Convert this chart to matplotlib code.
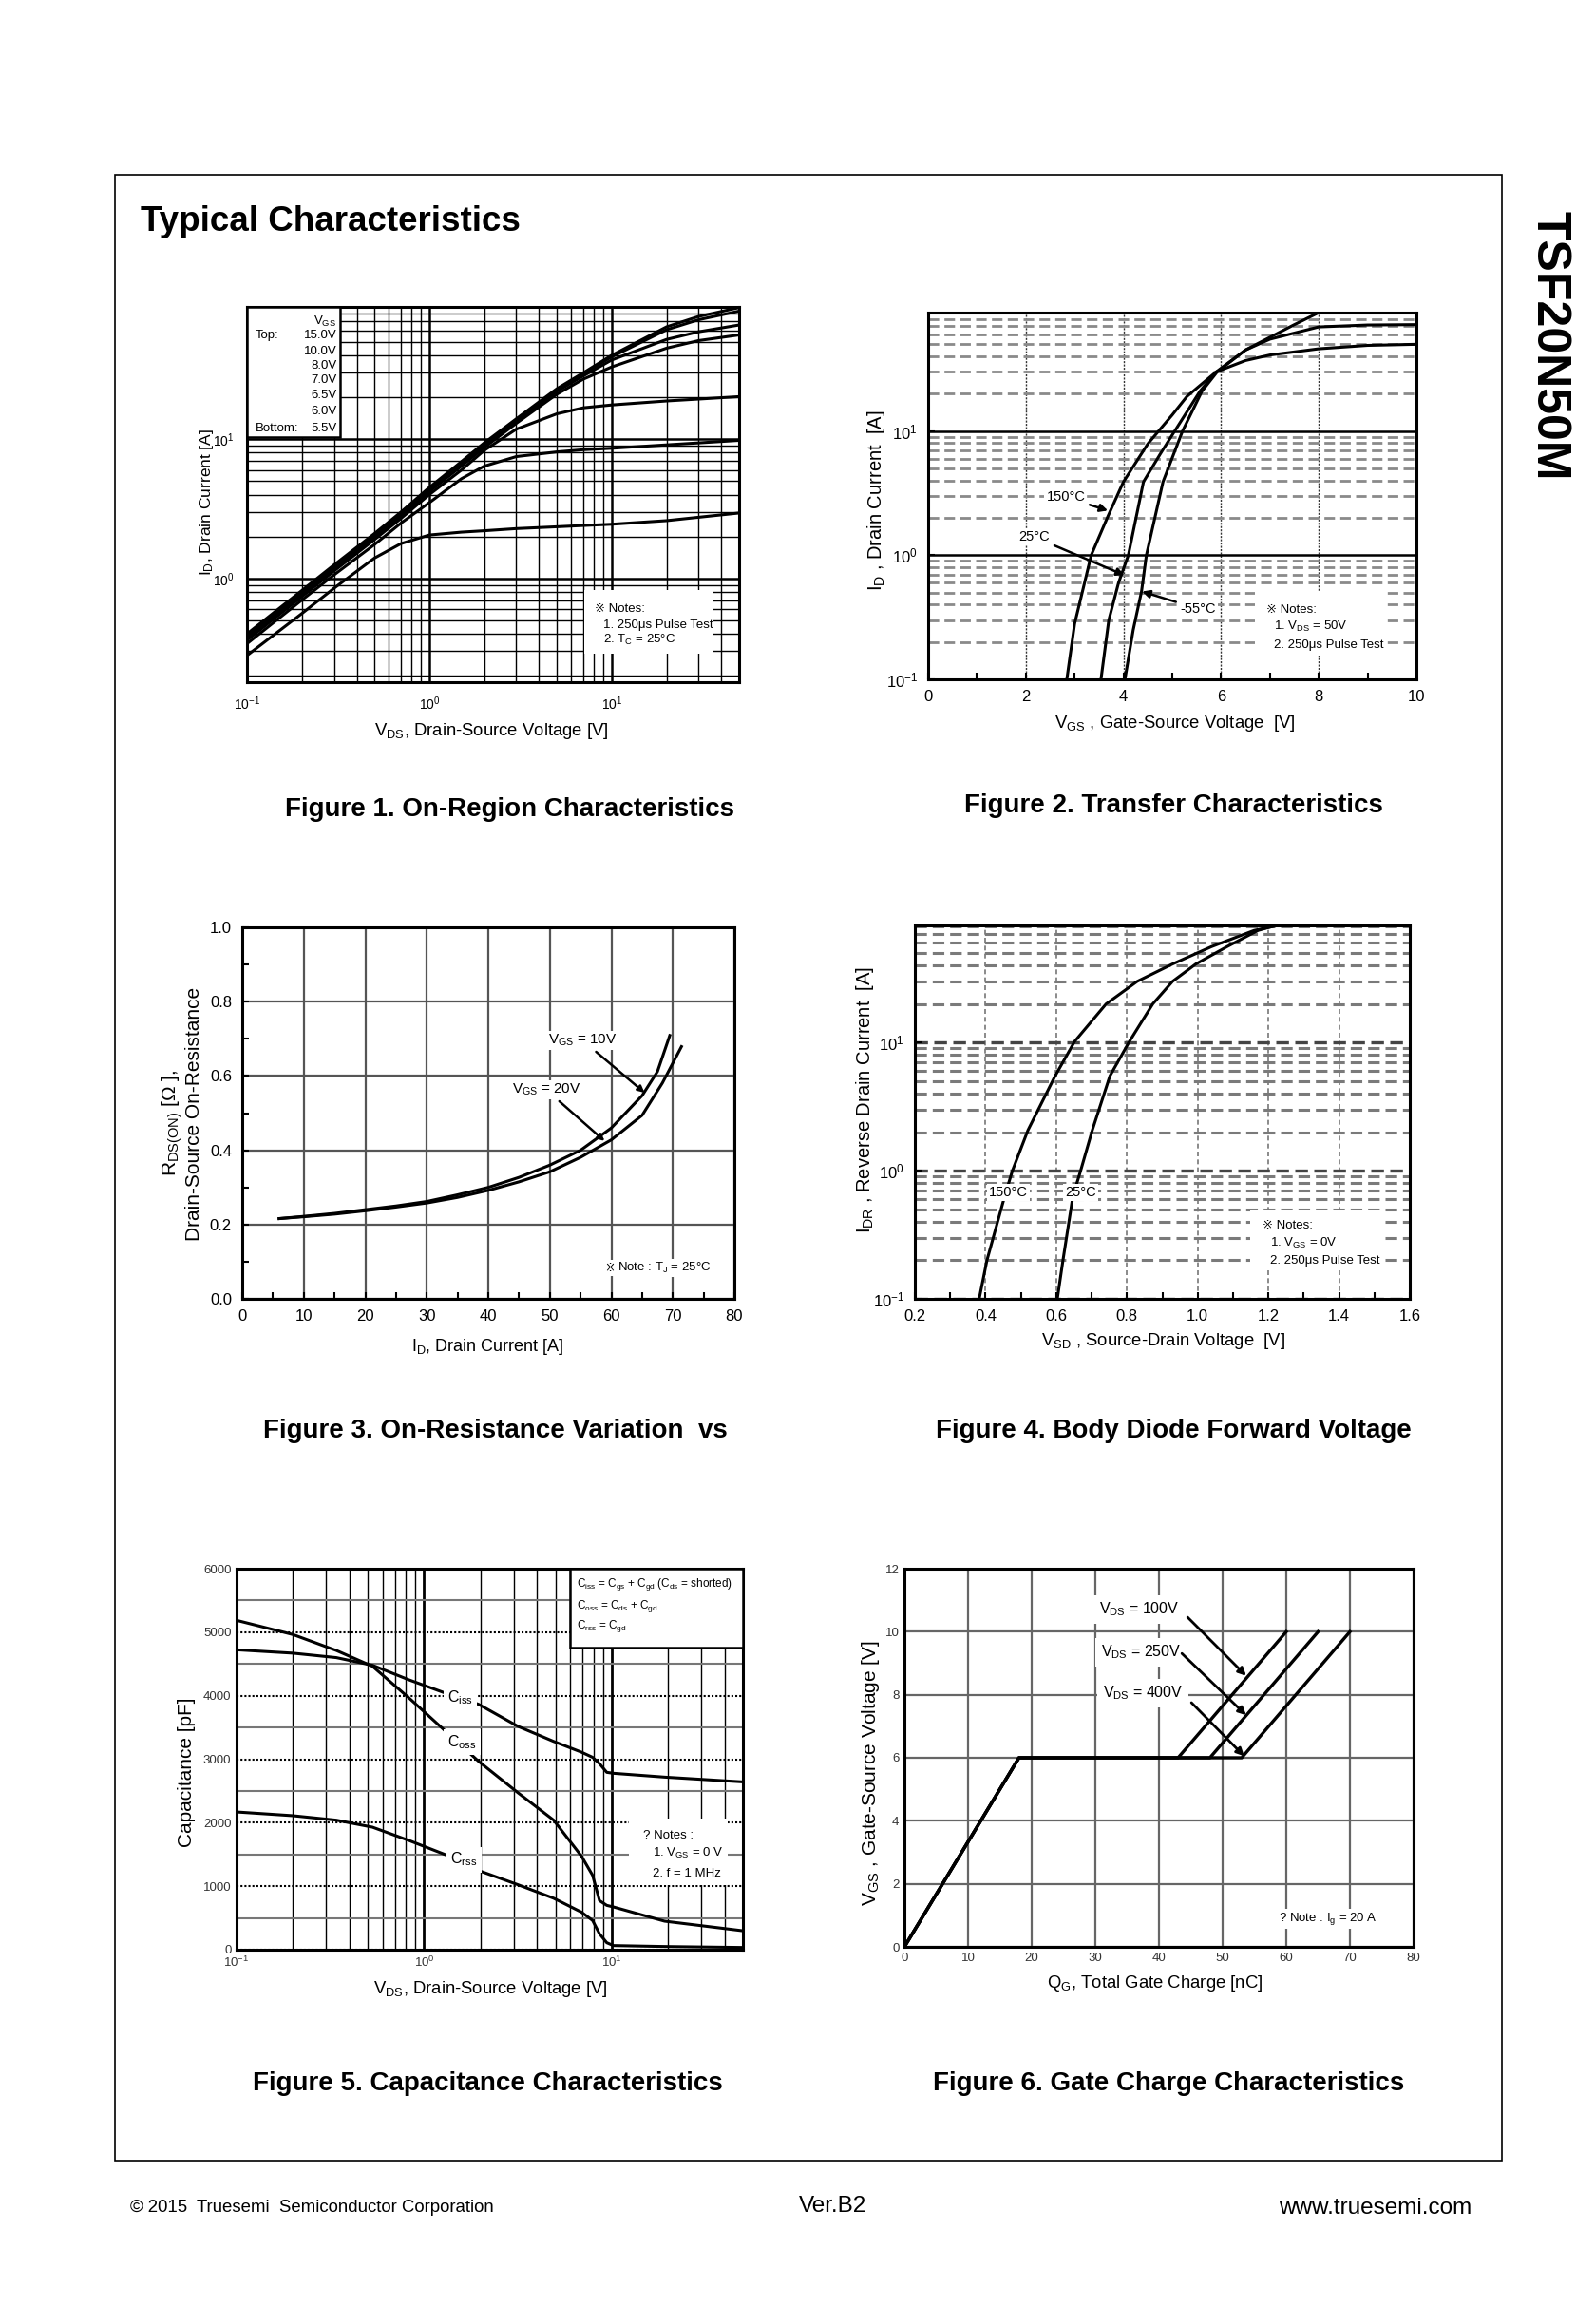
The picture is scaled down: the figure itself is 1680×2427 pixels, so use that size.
import matplotlib
matplotlib.use("Agg")
import matplotlib.pyplot as plt
from matplotlib.patches import Rectangle
from matplotlib.ticker import MultipleLocator, NullFormatter, FormatStrFormatter

W, H = 1680, 2427

# Fig.1 on-region characteristics (VDS [V] -> ID [A] per VGS)
vds1 = [0.1, 0.2, 0.3, 0.5, 0.7, 1, 1.5, 2, 3, 5, 7, 10, 20, 30, 50]
id_15v = [0.40, 0.82, 1.25, 2.1, 3.0, 4.5, 6.9, 9.4, 14, 23, 30, 40, 64, 76, 88]
id_10v = [0.39, 0.80, 1.22, 2.05, 2.95, 4.4, 6.8, 9.2, 13.8, 22.5, 29.5, 39, 61, 72, 83]
id_8v = [0.38, 0.78, 1.2, 2.0, 2.9, 4.3, 6.6, 9.0, 13.5, 22, 28.5, 37, 52, 59, 66]
id_7v = [0.37, 0.76, 1.17, 1.95, 2.8, 4.2, 6.4, 8.7, 13, 21, 27, 33, 45, 51, 56]
id_65v = [0.36, 0.74, 1.13, 1.9, 2.7, 4.0, 6.0, 8.3, 11.8, 15.2, 16.8, 17.6, 18.8, 19.4, 20.2]
id_6v = [0.34, 0.70, 1.06, 1.75, 2.5, 3.5, 5.2, 6.4, 7.5, 8.1, 8.4, 8.6, 9.1, 9.4, 9.8]
id_55v = [0.28, 0.56, 0.85, 1.4, 1.78, 2.05, 2.15, 2.2, 2.28, 2.35, 2.4, 2.45, 2.6, 2.75, 2.95]
vgs_steps = ["15.0V", "10.0V", "8.0V", "7.0V", "6.5V", "6.0V", "5.5V"]

# Fig.2 transfer characteristics (VGS [V] -> ID [A])
vgs_150 = [2.84, 3.0, 3.34, 3.68, 4.0, 4.5, 5.0, 5.3, 5.9, 6.5, 7, 8, 9, 10]
id_150 = [0.1, 0.28, 1.0, 2.05, 3.9, 7.9, 13.5, 19, 30, 37, 41, 46, 49, 50]
vgs_25 = [3.54, 3.7, 3.9, 4.1, 4.41, 4.75, 5.05, 5.57, 5.9, 6.5, 7, 8, 9, 10]
id_25 = [0.1, 0.3, 0.6, 1.0, 3.9, 6.5, 10, 21, 30, 45, 55, 69, 71.5, 72]
vgs_m55 = [4.03, 4.2, 4.37, 4.47, 4.81, 5.21, 5.61, 5.92, 6.5, 7, 7.5, 8.0]
id_m55 = [0.1, 0.25, 0.51, 1.0, 3.9, 10, 21, 30, 45, 57, 72, 90]

# Fig.3 on-resistance vs drain current
id3_10 = [6, 10, 15, 20, 25, 30, 35, 40, 45, 50, 55, 60, 65, 67.5, 69.5]
rds_10 = [0.216, 0.222, 0.230, 0.240, 0.250, 0.262, 0.280, 0.300, 0.327, 0.360, 0.400, 0.460, 0.547, 0.612, 0.709]
id3_20 = [6, 10, 15, 20, 25, 30, 35, 40, 45, 50, 55, 60, 65, 68.3, 71.4]
rds_20 = [0.216, 0.221, 0.228, 0.237, 0.247, 0.258, 0.273, 0.292, 0.315, 0.342, 0.381, 0.428, 0.494, 0.581, 0.679]

# Fig.4 body diode forward voltage (VSD [V] -> IDR [A])
idr = [0.1, 0.2, 0.63, 1.0, 2.07, 5.5, 10.2, 20, 30, 41, 56, 75, 82]
vsd_150 = [0.382, 0.404, 0.454, 0.476, 0.52, 0.597, 0.652, 0.741, 0.829, 0.929, 1.039, 1.16, 1.227]
vsd_25 = [0.603, 0.619, 0.647, 0.669, 0.702, 0.752, 0.807, 0.873, 0.929, 0.995, 1.083, 1.171, 1.221]

# Fig.5 capacitance (VDS [V] -> pF)
vds5 = [0.1, 0.2, 0.34, 0.53, 0.83, 1.3, 1.95, 3.17, 4.9, 6.9, 7.9, 8.6, 9.4, 10.2, 19.1, 49.6]
ciss = [4723, 4670, 4600, 4480, 4250, 4040, 3865, 3516, 3280, 3110, 3030, 2930, 2793, 2778, 2718, 2643]
coss = [5187, 4963, 4713, 4464, 3965, 3441, 2967, 2469, 2040, 1471, 1172, 773, 698, 673, 449, 299]
crss = [2169, 2110, 2040, 1930, 1720, 1496, 1247, 1022, 810, 590, 460, 250, 110, 65, 50, 35]

# Fig.6 gate charge (QG [nC] -> VGS [V])
qg_100 = [0, 18, 43, 60]
qg_250 = [0, 18, 48, 65]
qg_400 = [0, 18, 53, 70]
vgs_qg = [0, 6, 6, 10]

plt.rcParams['font.family'] = ['Liberation Sans', 'DejaVu Sans', 'Noto Sans CJK JP']
plt.rcParams['mathtext.fontset'] = 'custom'
plt.rcParams['mathtext.rm'] = 'Liberation Sans'
plt.rcParams['mathtext.it'] = 'Liberation Sans:italic'
plt.rcParams['mathtext.bf'] = 'Liberation Sans:bold'
plt.rcParams['xtick.direction'] = 'in'
plt.rcParams['ytick.direction'] = 'in'

fig = plt.figure(figsize=(W / 100, H / 100), dpi=100)


def add_ax(l, t, r, b):
    ax = fig.add_axes([l / W, 1 - b / H, (r - l) / W, (b - t) / H])
    for s in ax.spines.values():
        s.set_linewidth(2.2)
    ax.set_axisbelow(True)
    return ax


def ptext(x, y, s, **kw):
    kw.setdefault('ha', 'center')
    kw.setdefault('va', 'center')
    fig.text(x / W, 1 - y / H, s, **kw)


def white_box(ax, x0, y0, x1, y1, edge='none'):
    ax.add_patch(Rectangle((x0, y0), x1 - x0, y1 - y0, transform=ax.transAxes,
                           fc='white', ec=edge, lw=1.8, zorder=1 if edge == 'none' else 3))


def sub(a, b):
    return a + r'$_{\mathrm{' + b + '}}$'


WB = dict(fc='white', ec='none', pad=1.5)
CAP = dict(fontsize=20, fontweight='bold')

# page frame and headings
fig.add_artist(Rectangle((121 / W, 1 - 2274 / H), 1460 / W, 2090 / H, transform=fig.transFigure,
                         fc='none', ec='black', lw=1.2))
ptext(148, 243, "Typical Characteristics", ha='left', va='baseline', fontsize=26.5, fontweight='bold')
ptext(1630, 364, "TSF20N50M", rotation=-90, fontsize=36, fontweight='bold')
ptext(137, 2324, "© 2015  Truesemi  Semiconductor Corporation", ha='left', fontsize=13.4)
ptext(877, 2322, "Ver.B2", fontsize=17.5)
ptext(1549, 2324, "www.truesemi.com", ha='right', fontsize=17.5)

# ---------------- Figure 1 ----------------
ax1 = add_ax(260, 323, 778, 718)
ax1.set_xscale('log')
ax1.set_yscale('log')
for ys in [id_15v, id_10v, id_8v, id_7v, id_65v, id_6v, id_55v]:
    ax1.plot(vds1, ys, color='black', lw=2.2, zorder=2)
ax1.set_xlim(0.1, 50)
ax1.set_ylim(0.18, 89)
ax1.grid(True, which='major', color='black', lw=1.8)
ax1.grid(True, which='minor', color='black', lw=1.0)
ax1.xaxis.set_minor_formatter(NullFormatter())
ax1.yaxis.set_minor_formatter(NullFormatter())
ax1.tick_params(which='both', length=0, labelsize=10, pad=10)
white_box(ax1, 0, 0.654, 0.19, 1.0, edge='black')
ax1.text(0.017, 0.924, "Top:", transform=ax1.transAxes, fontsize=9.5, va='center', zorder=4)
ax1.text(0.017, 0.675, "Bottom:", transform=ax1.transAxes, fontsize=9.5, va='center', zorder=4)
ax1.text(0.182, 0.962, sub("V", "GS"), transform=ax1.transAxes, fontsize=9.5, ha='right', va='center', zorder=4)
for lab, yy in zip(vgs_steps, [0.924, 0.882, 0.844, 0.806, 0.764, 0.722, 0.675]):
    ax1.text(0.182, yy, lab, transform=ax1.transAxes, fontsize=9.5, ha='right', va='center', zorder=4)
white_box(ax1, 0.685, 0.076, 0.945, 0.245)
ax1.text(0.706, 0.194, "※ Notes:", transform=ax1.transAxes, fontsize=9.5, va='center')
ax1.text(0.723, 0.152, "1. 250μs Pulse Test", transform=ax1.transAxes, fontsize=9.5, va='center')
ax1.text(0.723, 0.114, "2. " + sub("T", "C") + " = 25°C", transform=ax1.transAxes, fontsize=9.5, va='center')
ptext(217, 528, sub("I", "D") + ", Drain Current [A]", rotation=90, fontsize=12.5)
ptext(517, 770, sub("V", "DS") + ", Drain-Source Voltage [V]", fontsize=13.3)
ptext(537, 852, "Figure 1. On-Region Characteristics", **CAP)

# ---------------- Figure 2 ----------------
ax2 = add_ax(977, 329, 1491, 715)
ax2.set_yscale('log')
ax2.plot(vgs_150, id_150, color='black', lw=2.2)
ax2.plot(vgs_25, id_25, color='black', lw=2.2)
ax2.plot(vgs_m55, id_m55, color='black', lw=2.2)
ax2.set_xlim(0, 10)
ax2.set_ylim(0.1, 90)
ax2.xaxis.set_major_locator(MultipleLocator(2))
ax2.xaxis.set_minor_locator(MultipleLocator(1))
ax2.yaxis.set_minor_formatter(NullFormatter())
ax2.yaxis.grid(True, which='minor', color='#8a8a8a', lw=2.0, ls=(0, (4, 2)))
ax2.yaxis.grid(True, which='major', color='black', lw=1.8)
ax2.xaxis.grid(True, which='major', color='#333333', lw=1.0, ls=(0, (1.5, 1)))
ax2.tick_params(which='major', length=5, width=1.5, labelsize=12, pad=8)
ax2.tick_params(axis='y', which='minor', length=0)
ax2.tick_params(axis='x', which='minor', length=5, width=1.5)
for lab, tip, pos in [("150°C", (3.68, 2.29), (2.82, 2.93)),
                      ("25°C", (4.02, 0.69), (2.18, 1.4)),
                      ("-55°C", (4.38, 0.51), (5.53, 0.37))]:
    ax2.annotate(lab, xy=tip, xytext=pos, fontsize=10.5, ha='center', va='center', bbox=WB,
                 arrowprops=dict(arrowstyle='-|>', color='black', lw=1.8, mutation_scale=12, shrinkB=0))
white_box(ax2, 0.669, 0.065, 0.936, 0.238)
ax2.text(0.693, 0.19, "※ Notes:", transform=ax2.transAxes, fontsize=9.5, va='center')
ax2.text(0.709, 0.143, "1. " + sub("V", "DS") + " = 50V", transform=ax2.transAxes, fontsize=9.5, va='center')
ax2.text(0.709, 0.092, "2. 250μs Pulse Test", transform=ax2.transAxes, fontsize=9.5, va='center')
ptext(922, 527, sub("I", "D") + " , Drain Current  [A]", rotation=90, fontsize=14.5)
ptext(1237, 762, sub("V", "GS") + " , Gate-Source Voltage  [V]", fontsize=13.3)
ptext(1235, 848, "Figure 2. Transfer Characteristics", **CAP)

# ---------------- Figure 3 ----------------
ax3 = add_ax(255, 976, 773, 1367)
ax3.plot(id3_10, rds_10, color='black', lw=2.2)
ax3.plot(id3_20, rds_20, color='black', lw=2.2)
ax3.set_xlim(0, 80)
ax3.set_ylim(0, 1.0)
ax3.xaxis.set_major_locator(MultipleLocator(10))
ax3.xaxis.set_minor_locator(MultipleLocator(5))
ax3.yaxis.set_major_locator(MultipleLocator(0.2))
ax3.yaxis.set_minor_locator(MultipleLocator(0.1))
ax3.yaxis.set_major_formatter(FormatStrFormatter('%.1f'))
ax3.grid(True, which='major', color='#555555', lw=1.6)
ax3.tick_params(which='both', length=5, width=1.5, labelsize=12, pad=8)
for lab, tip, pos in [(sub("V", "GS") + " = 10V", (65.4, 0.555), (55.3, 0.696)),
                      (sub("V", "GS") + " = 20V", (58.9, 0.425), (49.4, 0.563))]:
    ax3.annotate(lab, xy=tip, xytext=pos, fontsize=11, ha='center', va='center', bbox=WB,
                 arrowprops=dict(arrowstyle='-|>', color='black', lw=1.8, mutation_scale=10, shrinkB=0))
ax3.text(61.0, 0.083, "Note : " + sub("T", "J") + " = 25°C", fontsize=9.5, ha='left', va='center', bbox=WB)
ax3.text(60.6, 0.083, "※", fontsize=9.5, ha='right', va='center', bbox=WB)
ptext(181, 1182, sub("R", "DS(ON)") + " [Ω ],", rotation=90, fontsize=15)
ptext(204, 1172, "Drain-Source On-Resistance", rotation=90, fontsize=15)
ptext(513, 1417, sub("I", "D") + ", Drain Current [A]", fontsize=13)
ptext(521, 1506, "Figure 3. On-Resistance Variation  vs", **CAP)

# ---------------- Figure 4 ----------------
ax4 = add_ax(963, 974, 1484, 1367)
ax4.set_yscale('log')
ax4.plot(vsd_150, idr, color='black', lw=2.2)
ax4.plot(vsd_25, idr, color='black', lw=2.2)
ax4.set_xlim(0.2, 1.6)
ax4.set_ylim(0.1, 82)
ax4.xaxis.set_major_locator(MultipleLocator(0.2))
ax4.xaxis.set_minor_locator(MultipleLocator(0.1))
ax4.xaxis.set_major_formatter(FormatStrFormatter('%.1f'))
ax4.yaxis.set_minor_formatter(NullFormatter())
ax4.yaxis.grid(True, which='minor', color='#7a7a7a', lw=2.2, ls=(0, (4, 2)))
ax4.yaxis.grid(True, which='major', color='#444444', lw=2.4, ls=(0, (4, 2)))
ax4.xaxis.grid(True, which='major', color='#777777', lw=1.2, ls=(0, (3, 2)))
ax4.tick_params(which='major', length=5, width=1.5, labelsize=12, pad=8)
ax4.tick_params(axis='y', which='minor', length=0)
ax4.tick_params(axis='x', which='minor', length=5, width=1.5)
ax4.text(0.465, 0.68, "150°C", fontsize=10.5, ha='center', va='center', bbox=WB)
ax4.text(0.669, 0.68, "25°C", fontsize=10.5, ha='center', va='center', bbox=WB)
white_box(ax4, 0.678, 0.085, 0.942, 0.238)
ax4.text(0.702, 0.195, "※ Notes:", transform=ax4.transAxes, fontsize=9.5, va='center')
ax4.text(0.718, 0.149, "1. " + sub("V", "GS") + " = 0V", transform=ax4.transAxes, fontsize=9.5, va='center')
ax4.text(0.718, 0.102, "2. 250μs Pulse Test", transform=ax4.transAxes, fontsize=9.5, va='center')
ptext(911, 1157, sub("I", "DR") + " , Reverse Drain Current  [A]", rotation=90, fontsize=14.5)
ptext(1224, 1412, sub("V", "SD") + " , Source-Drain Voltage  [V]", fontsize=13.3)
ptext(1235, 1506, "Figure 4. Body Diode Forward Voltage", **CAP)

# ---------------- Figure 5 ----------------
ax5 = add_ax(249, 1651, 782, 2052)
ax5.set_xscale('log')
ax5.plot(vds5, ciss, color='black', lw=2.2)
ax5.plot(vds5, coss, color='black', lw=2.2)
ax5.plot(vds5, crss, color='black', lw=2.2)
ax5.set_xlim(0.1, 50)
ax5.set_ylim(0, 6000)
ax5.yaxis.set_major_locator(MultipleLocator(1000))
ax5.yaxis.set_minor_locator(MultipleLocator(500))
ax5.xaxis.set_minor_formatter(NullFormatter())
ax5.xaxis.grid(True, which='major', color='black', lw=2.0)
ax5.xaxis.grid(True, which='minor', color='black', lw=1.0)
ax5.yaxis.grid(True, which='major', color='black', lw=1.5, ls=(0, (1, 1)))
ax5.yaxis.grid(True, which='minor', color='#777777', lw=1.5)
ax5.tick_params(which='both', length=0, labelsize=9.5, labelcolor='#333333', pad=4)
for lab, pos in [(sub("C", "iss"), (1.56, 3965)), (sub("C", "oss"), (1.59, 3267)), (sub("C", "rss"), (1.63, 1421))]:
    ax5.text(pos[0], pos[1], lab, fontsize=11.5, ha='center', va='center', bbox=dict(fc='white', ec='none', pad=3))
white_box(ax5, 0.659, 0.794, 1.0, 1.0, edge='black')
ax5.text(0.672, 0.96, sub("C", "iss") + " = " + sub("C", "gs") + " + " + sub("C", "gd") + " (" + sub("C", "ds") + " = shorted)",
         transform=ax5.transAxes, fontsize=8.5, va='center', zorder=4)
ax5.text(0.672, 0.902, sub("C", "oss") + " = " + sub("C", "ds") + " + " + sub("C", "gd"),
         transform=ax5.transAxes, fontsize=8.5, va='center', zorder=4)
ax5.text(0.672, 0.848, sub("C", "rss") + " = " + sub("C", "gd"), transform=ax5.transAxes, fontsize=8.5, va='center', zorder=4)
white_box(ax5, 0.775, 0.17, 0.97, 0.345)
ax5.text(0.803, 0.299, "? Notes :", transform=ax5.transAxes, fontsize=9.5, va='center')
ax5.text(0.822, 0.254, "1. " + sub("V", "GS") + " = 0 V", transform=ax5.transAxes, fontsize=9.5, va='center')
ax5.text(0.822, 0.2, "2. f = 1 MHz", transform=ax5.transAxes, fontsize=9.5, va='center')
ptext(196, 1865, "Capacitance [pF]", rotation=90, fontsize=15)
ptext(516, 2093, sub("V", "DS") + ", Drain-Source Voltage [V]", fontsize=13.3)
ptext(513, 2193, "Figure 5. Capacitance Characteristics", **CAP)

# ---------------- Figure 6 ----------------
ax6 = add_ax(952, 1651, 1488, 2049)
for qq in [qg_100, qg_250, qg_400]:
    ax6.plot(qq, vgs_qg, color='black', lw=2.4)
ax6.set_xlim(0, 80)
ax6.set_ylim(0, 12)
ax6.xaxis.set_major_locator(MultipleLocator(10))
ax6.yaxis.set_major_locator(MultipleLocator(2))
ax6.grid(True, which='major', color='#666666', lw=1.6)
ax6.tick_params(which='both', length=0, labelsize=9.5, labelcolor='#333333', pad=4)
for lab, pos, tail, tip in [(sub("V", "DS") + " = 100V", (36.9, 10.71), (44.5, 10.46), (53.7, 8.6)),
                            (sub("V", "DS") + " = 250V", (37.2, 9.36), (43.6, 9.31), (53.7, 7.35)),
                            (sub("V", "DS") + " = 400V", (37.5, 8.05), (45.1, 7.75), (53.4, 6.05))]:
    ax6.text(pos[0], pos[1], lab, fontsize=11.5, ha='center', va='center', bbox=dict(fc='white', ec='none', pad=4))
    ax6.annotate("", xy=tip, xytext=tail,
                 arrowprops=dict(arrowstyle='-|>', color='black', lw=2.0, mutation_scale=12, shrinkA=0, shrinkB=0))
ax6.text(66.5, 0.88, "? Note : " + sub("I", "g") + " = 20 A", fontsize=9.5, ha='center', va='center', bbox=WB)
ptext(917, 1866, sub("V", "GS") + " , Gate-Source Voltage [V]", rotation=90, fontsize=15)
ptext(1216, 2087, sub("Q", "G") + ", Total Gate Charge [nC]", fontsize=13.3)
ptext(1230, 2193, "Figure 6. Gate Charge Characteristics", **CAP)

fig.savefig("out.png", dpi=100, facecolor='white')
